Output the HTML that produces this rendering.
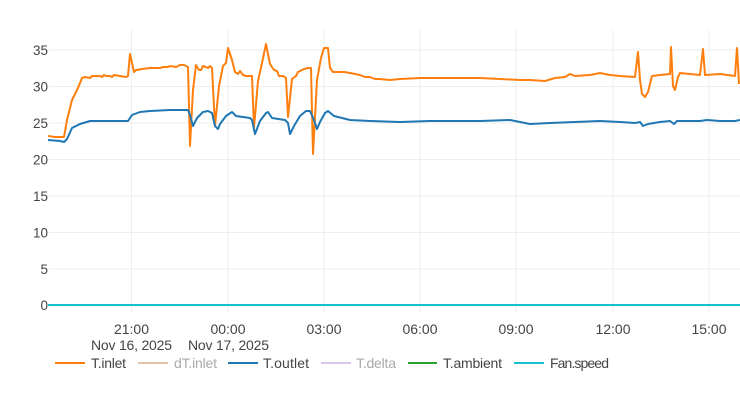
<!DOCTYPE html>
<html><head><meta charset="utf-8"><style>
body{margin:0;background:#fff;}
svg{display:block;font-family:"Liberation Sans",sans-serif;}
</style></head><body>
<svg width="740" height="400" viewBox="0 0 740 400">
<g stroke="#eeeeee" stroke-width="1">
<line x1="49" x2="740" y1="50" y2="50"/><line x1="49" x2="740" y1="86.5" y2="86.5"/>
<line x1="49" x2="740" y1="123" y2="123"/><line x1="49" x2="740" y1="159.5" y2="159.5"/>
<line x1="49" x2="740" y1="196" y2="196"/><line x1="49" x2="740" y1="232.5" y2="232.5"/>
<line x1="49" x2="740" y1="269" y2="269"/>
<line x1="131.5" x2="131.5" y1="30" y2="312"/><line x1="228" x2="228" y1="30" y2="312"/>
<line x1="324" x2="324" y1="30" y2="312"/><line x1="420" x2="420" y1="30" y2="312"/>
<line x1="516" x2="516" y1="30" y2="312"/><line x1="613" x2="613" y1="30" y2="312"/>
<line x1="709" x2="709" y1="30" y2="312"/>
</g>
<g font-size="13.5" fill="#444" text-anchor="end">
<text x="48" y="55">35</text><text x="48" y="91.5">30</text><text x="48" y="128">25</text>
<text x="48" y="164.5">20</text><text x="48" y="201">15</text><text x="48" y="237.5">10</text>
<text x="48" y="274">5</text><text x="48" y="310">0</text>
</g>
<g font-size="14" fill="#444" text-anchor="middle">
<text x="131.5" y="334" textLength="35">21:00</text><text x="228" y="334" textLength="35">00:00</text><text x="324" y="334" textLength="35">03:00</text>
<text x="420" y="334" textLength="35">06:00</text><text x="516" y="334" textLength="35">09:00</text><text x="613" y="334" textLength="35">12:00</text>
<text x="709" y="334" textLength="35">15:00</text>
<text x="131.5" y="350" textLength="81">Nov 16, 2025</text><text x="228.5" y="350" textLength="81">Nov 17, 2025</text>
</g>
<line x1="48" x2="740" y1="305" y2="305" stroke="#17becf" stroke-width="2"/>
<polyline fill="none" stroke="#ff7f0e" stroke-width="2" stroke-linejoin="round" points="48,136 55,137 64,137 67,120 72,100 78,88 82,78 85,77 90,78 92,76 100,76 102,77 104,75 106,76 110,76 112,77 114,75 126,77 128,76 130,54 134,72 136,70 142,69 150,68 160,68 163,67 168,67 170,66 176,67 180,65 184,65 188,67 190,146 193,90 196,65 199,70 201,70 203,66 206,67 208,68 210,66 212,68 215,126 219,86 223,66 226,63 228,48 232,60 235,72 238,74 240,71 243,75 246,76 252,76 254,128 258,81 262,63 266,44 270,64 274,70 277,71 279,76 283,76 286,78 288,117 292,79 296,76 298,72 304,69 308,68 311,68 313,154 317,80 321,58 324,48 328,48 330,68 333,72 340,72 344,72 350,73 355,74 360,75 365,77 370,77 375,79 380,79 390,80 400,79 420,78 450,78 480,78 500,79 520,80 530,80 545,81 555,78 565,77 570,74 575,76 590,75 600,73 610,75 620,76 635,77 638,52 640,80 642,94 645,97 648,92 652,76 660,75 670,74 671,47 673,86 675,90 678,77 680,73 700,75 703,49 705,75 720,74 735,76 737,48 739,84"/>
<polyline fill="none" stroke="#1f77b4" stroke-width="2" stroke-linejoin="round" points="48,140 60,141 64,142 67,139 72,128 80,124 90,121 100,121 120,121 128,121 132,115 140,112 150,111 170,110 188,110 190,115 193,126 197,118 203,112 208,111 212,113 215,126 218,129 220,124 226,116 232,112 236,116 250,118 252,120 255,134 260,121 266,113 268,112 272,118 285,120 288,123 290,134 294,126 300,116 306,111 310,111 314,120 317,129 320,122 325,113 328,111 334,116 350,120 370,121 400,122 430,121 480,121 510,120 520,122 530,124 550,123 600,121 620,122 635,123 640,122 643,126 648,124 660,122 670,121 674,124 677,121 700,121 707,120 720,121 735,121 740,120"/>
<g font-size="14">
<line x1="55" x2="85" y1="363" y2="363" stroke="#ff7f0e" stroke-width="2"/><text x="91" y="368" fill="#444" textLength="35">T.inlet</text>
<line x1="138" x2="168" y1="363" y2="363" stroke="#e6c3a6" stroke-width="2"/><text x="174" y="368" fill="#aaa" textLength="43">dT.inlet</text>
<line x1="228" x2="258" y1="363" y2="363" stroke="#1f77b4" stroke-width="2"/><text x="263" y="368" fill="#444" textLength="46">T.outlet</text>
<line x1="321" x2="351" y1="363" y2="363" stroke="#d8c4ec" stroke-width="2"/><text x="356" y="368" fill="#aaa" textLength="40">T.delta</text>
<line x1="408" x2="437" y1="363" y2="363" stroke="#2ca02c" stroke-width="2"/><text x="443" y="368" fill="#444" textLength="59">T.ambient</text>
<line x1="514" x2="544" y1="363" y2="363" stroke="#17becf" stroke-width="2"/><text x="550" y="368" fill="#444" textLength="59">Fan.speed</text>
</g>
</svg>
</body></html>
